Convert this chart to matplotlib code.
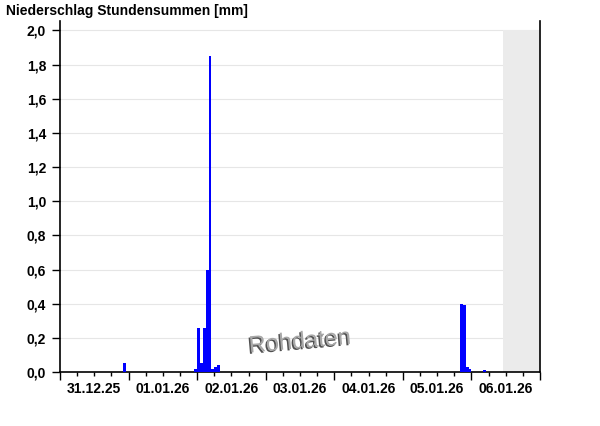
# -*- coding: UTF-8 -*-
import datetime
import matplotlib
matplotlib.use('Agg')
import matplotlib.pyplot as plt
import matplotlib.patheffects as pe

################################################################################
# Niederschlag Stundensummen
################################################################################

# Stundenbeginn und Summe (mm)
hours = ['2025-12-31 22:00',
         '2026-01-01 23:00',
         '2026-01-02 00:00', '2026-01-02 01:00', '2026-01-02 02:00',
         '2026-01-02 03:00', '2026-01-02 04:00', '2026-01-02 05:00',
         '2026-01-02 06:00', '2026-01-02 07:00',
         '2026-01-05 20:00', '2026-01-05 21:00', '2026-01-05 22:00',
         '2026-01-05 23:00',
         '2026-01-06 04:00']
values = [0.05,
          0.02,
          0.26, 0.05, 0.26,
          0.60, 1.85, 0.02,
          0.03, 0.04,
          0.40, 0.39, 0.03,
          0.02,
          0.01]

start = datetime.datetime(2025, 12, 31)
end = datetime.datetime(2026, 1, 7)
now = datetime.datetime(2026, 1, 6, 11, 0)
day_labels = ['31.12.25', '01.01.26', '02.01.26', '03.01.26',
              '04.01.26', '05.01.26', '06.01.26']

plt.rcParams['font.family'] = ['Liberation Sans', 'DejaVu Sans']
plt.rcParams['font.weight'] = 'bold'

fig = plt.figure(figsize=(6.0, 4.26), dpi=100)
axe = fig.add_axes([0.1, 0.1268, 0.8, 0.8239])

x = [datetime.datetime.strptime(h, '%Y-%m-%d %H:%M') for h in hours]
axe.bar(x, values, width=1.0 / 24, align='edge', color='#0000ff',
        linewidth=0, antialiased=False, zorder=3)

# Zukunft grau
axe.fill_between([now, end], 0, 2.0, color='#ebebeb', linewidth=0, zorder=1)

axe.set_xlim(start, end)
axe.set_ylim(0, 2.055)

yt = [i * 0.2 for i in range(11)]
axe.set_yticks(yt)
axe.set_yticklabels([('%.1f' % v).replace('.', ',') for v in yt])
axe.yaxis.grid(True, color='#e6e6e6', linewidth=0.8, zorder=0)
axe.set_axisbelow(True)

days = [start + datetime.timedelta(days=i) for i in range(8)]
axe.set_xticks(days)
axe.set_xticklabels([''] * len(days))
minor = []
minor_labels = []
for i in range(7):
    for h in (6, 12, 18):
        minor.append(start + datetime.timedelta(days=i, hours=h))
        minor_labels.append(day_labels[i] if h == 12 else '')
axe.set_xticks(minor, minor=True)
axe.set_xticklabels(minor_labels, minor=True)

axe.tick_params(axis='x', which='major', length=6, width=1, color='black')
axe.tick_params(axis='x', which='minor', length=3, width=1, color='black',
                labelsize=10, pad=4)
axe.tick_params(axis='y', length=6, width=1, labelsize=10, pad=4)

axe.spines['top'].set_visible(False)
for s in ('left', 'right', 'bottom'):
    axe.spines[s].set_linewidth(1.2)

fig.text(0.01, 1 - 4.0 / 426, 'Niederschlag Stundensummen [mm]',
         ha='left', va='top', fontsize=10, fontweight='bold')

# Wasserzeichen
axe.text(0.5, 0.085, 'Rohdaten', transform=axe.transAxes, ha='center',
         va='center', rotation=5, fontsize=17, fontweight='normal',
         color='#a8a8a8', zorder=4,
         path_effects=[pe.withSimplePatchShadow(offset=(-1, -1),
                                                shadow_rgbFace='#505050',
                                                alpha=1.0)])

fig.savefig('out.png', dpi=100)
plt.close()
